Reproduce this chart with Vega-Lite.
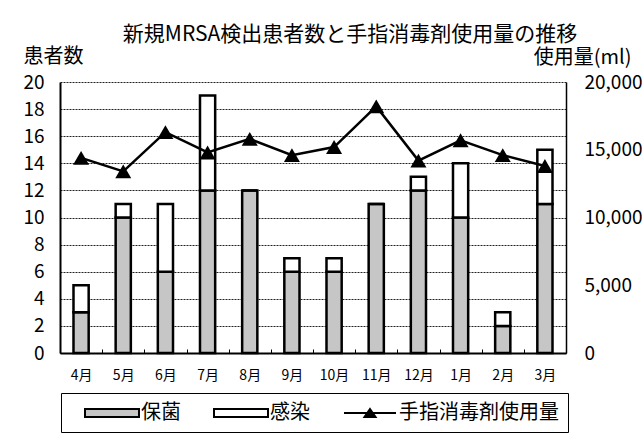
{
  "$schema": "https://vega.github.io/schema/vega-lite/v6.json",
  "width": 506,
  "height": 271,
  "autosize": {"type": "none"},
  "padding": {"left": 60, "top": 82, "right": 76, "bottom": 87},
  "background": "white",
  "title": {
    "text": "新規MRSA検出患者数と手指消毒剤使用量の推移",
    "font": "Noto Sans CJK JP",
    "fontSize": 21,
    "fontWeight": "normal",
    "color": "black",
    "anchor": "middle",
    "dx": 37,
    "offset": 1
  },
  "datasets": {
    "patients": [
      {"month": "4月", "type": "保菌", "count": 3},
      {"month": "4月", "type": "感染", "count": 2},
      {"month": "5月", "type": "保菌", "count": 10},
      {"month": "5月", "type": "感染", "count": 1},
      {"month": "6月", "type": "保菌", "count": 6},
      {"month": "6月", "type": "感染", "count": 5},
      {"month": "7月", "type": "保菌", "count": 12},
      {"month": "7月", "type": "感染", "count": 7},
      {"month": "8月", "type": "保菌", "count": 12},
      {"month": "8月", "type": "感染", "count": 0},
      {"month": "9月", "type": "保菌", "count": 6},
      {"month": "9月", "type": "感染", "count": 1},
      {"month": "10月", "type": "保菌", "count": 6},
      {"month": "10月", "type": "感染", "count": 1},
      {"month": "11月", "type": "保菌", "count": 11},
      {"month": "11月", "type": "感染", "count": 0},
      {"month": "12月", "type": "保菌", "count": 12},
      {"month": "12月", "type": "感染", "count": 1},
      {"month": "1月", "type": "保菌", "count": 10},
      {"month": "1月", "type": "感染", "count": 4},
      {"month": "2月", "type": "保菌", "count": 2},
      {"month": "2月", "type": "感染", "count": 1},
      {"month": "3月", "type": "保菌", "count": 11},
      {"month": "3月", "type": "感染", "count": 4}
    ],
    "usage": [
      {"month": "4月", "usage": 14400},
      {"month": "5月", "usage": 13400},
      {"month": "6月", "usage": 16300},
      {"month": "7月", "usage": 14800},
      {"month": "8月", "usage": 15800},
      {"month": "9月", "usage": 14600},
      {"month": "10月", "usage": 15200},
      {"month": "11月", "usage": 18200},
      {"month": "12月", "usage": 14200},
      {"month": "1月", "usage": 15700},
      {"month": "2月", "usage": 14600},
      {"month": "3月", "usage": 13800}
    ]
  },
  "encoding": {
    "x": {
      "field": "month",
      "type": "ordinal",
      "sort": ["4月", "5月", "6月", "7月", "8月", "9月", "10月", "11月", "12月", "1月", "2月", "3月"],
      "scale": {"paddingInner": 0, "paddingOuter": 0},
      "axis": {
        "title": null,
        "labelAngle": 0,
        "labelFontSize": 14,
        "labelPadding": 19,
        "tickBand": "extent",
        "tickSize": -4,
        "tickColor": "black",
        "tickWidth": 1,
        "domainColor": "black",
        "domainWidth": 2,
        "grid": false
      }
    }
  },
  "layer": [
    {
      "data": {"name": "patients"},
      "mark": {"type": "bar", "stroke": "black", "strokeWidth": 2.5, "width": {"band": 0.36}},
      "encoding": {
        "y": {
          "field": "count",
          "type": "quantitative",
          "stack": "zero",
          "scale": {"domain": [0, 20], "nice": false},
          "axis": {
            "title": "患者数",
            "titleAngle": 0,
            "titleAlign": "left",
            "titleBaseline": "alphabetic",
            "titleX": -37,
            "titleY": -20,
            "titleFontSize": 20,
            "values": [0, 2, 4, 6, 8, 10, 12, 14, 16, 18, 20],
            "labelFontSize": 19,
            "labelPadding": 16,
            "ticks": false,
            "domainColor": "black",
            "domainWidth": 2,
            "grid": true,
            "gridColor": "#222",
            "gridDash": [2, 1],
            "gridWidth": 1
          }
        },
        "order": {"field": "type", "sort": "ascending"},
        "color": {
          "field": "type",
          "type": "nominal",
          "scale": {"domain": ["保菌", "感染", "手指消毒剤使用量"], "range": ["#c6c6c6", "#ffffff", "#000000"]},
          "legend": {
            "title": null,
            "orient": "none",
            "legendX": 1,
            "legendY": 311,
            "direction": "horizontal",
            "labelFontSize": 20,
            "labelOffset": 18,
            "columnPadding": 18,
            "symbolSize": 400,
            "symbolOffset": 31,
            "symbolStrokeColor": "black",
            "symbolStrokeWidth": 2,
            "symbolOpacity": 1,
            "strokeColor": "black",
            "fillColor": "white",
            "padding": 9,
            "encode": {
              "symbols": {
                "update": {
                  "shape": {"signal": "datum.value === '手指消毒剤使用量' ? 'M-2.6,0H2.6M0,-0.4L0.55,0.4L-0.55,0.4Z' : 'M-2.7,-0.4H2.7V0.4H-2.7Z'"}
                }
              }
            }
          }
        }
      }
    },
    {
      "data": {"name": "usage"},
      "mark": {
        "type": "line",
        "color": "black",
        "strokeWidth": 2.5,
        "point": {"shape": "triangle-up", "size": 256, "filled": true, "color": "black", "opacity": 1}
      },
      "encoding": {
        "y": {
          "field": "usage",
          "type": "quantitative",
          "scale": {"domain": [0, 20000], "nice": false},
          "axis": {
            "orient": "right",
            "title": "使用量(ml)",
            "titleAngle": 0,
            "titleAlign": "right",
            "titleBaseline": "alphabetic",
            "titleX": 65,
            "titleY": -19,
            "titleFontSize": 20,
            "values": [0, 5000, 10000, 15000, 20000],
            "format": ",d",
            "labelFontSize": 19,
            "labelPadding": 18,
            "ticks": false,
            "domainColor": "black",
            "domainWidth": 1.5,
            "grid": false
          }
        }
      }
    }
  ],
  "resolve": {"scale": {"y": "independent"}},
  "config": {
    "font": "Noto Sans CJK JP",
    "view": {"stroke": null},
    "axis": {
      "labelFont": "Noto Sans CJK JP",
      "titleFont": "Noto Sans CJK JP",
      "labelColor": "black",
      "titleColor": "black",
      "titleFontWeight": "normal"
    },
    "legend": {
      "labelFont": "Noto Sans CJK JP",
      "labelColor": "black"
    }
  }
}
